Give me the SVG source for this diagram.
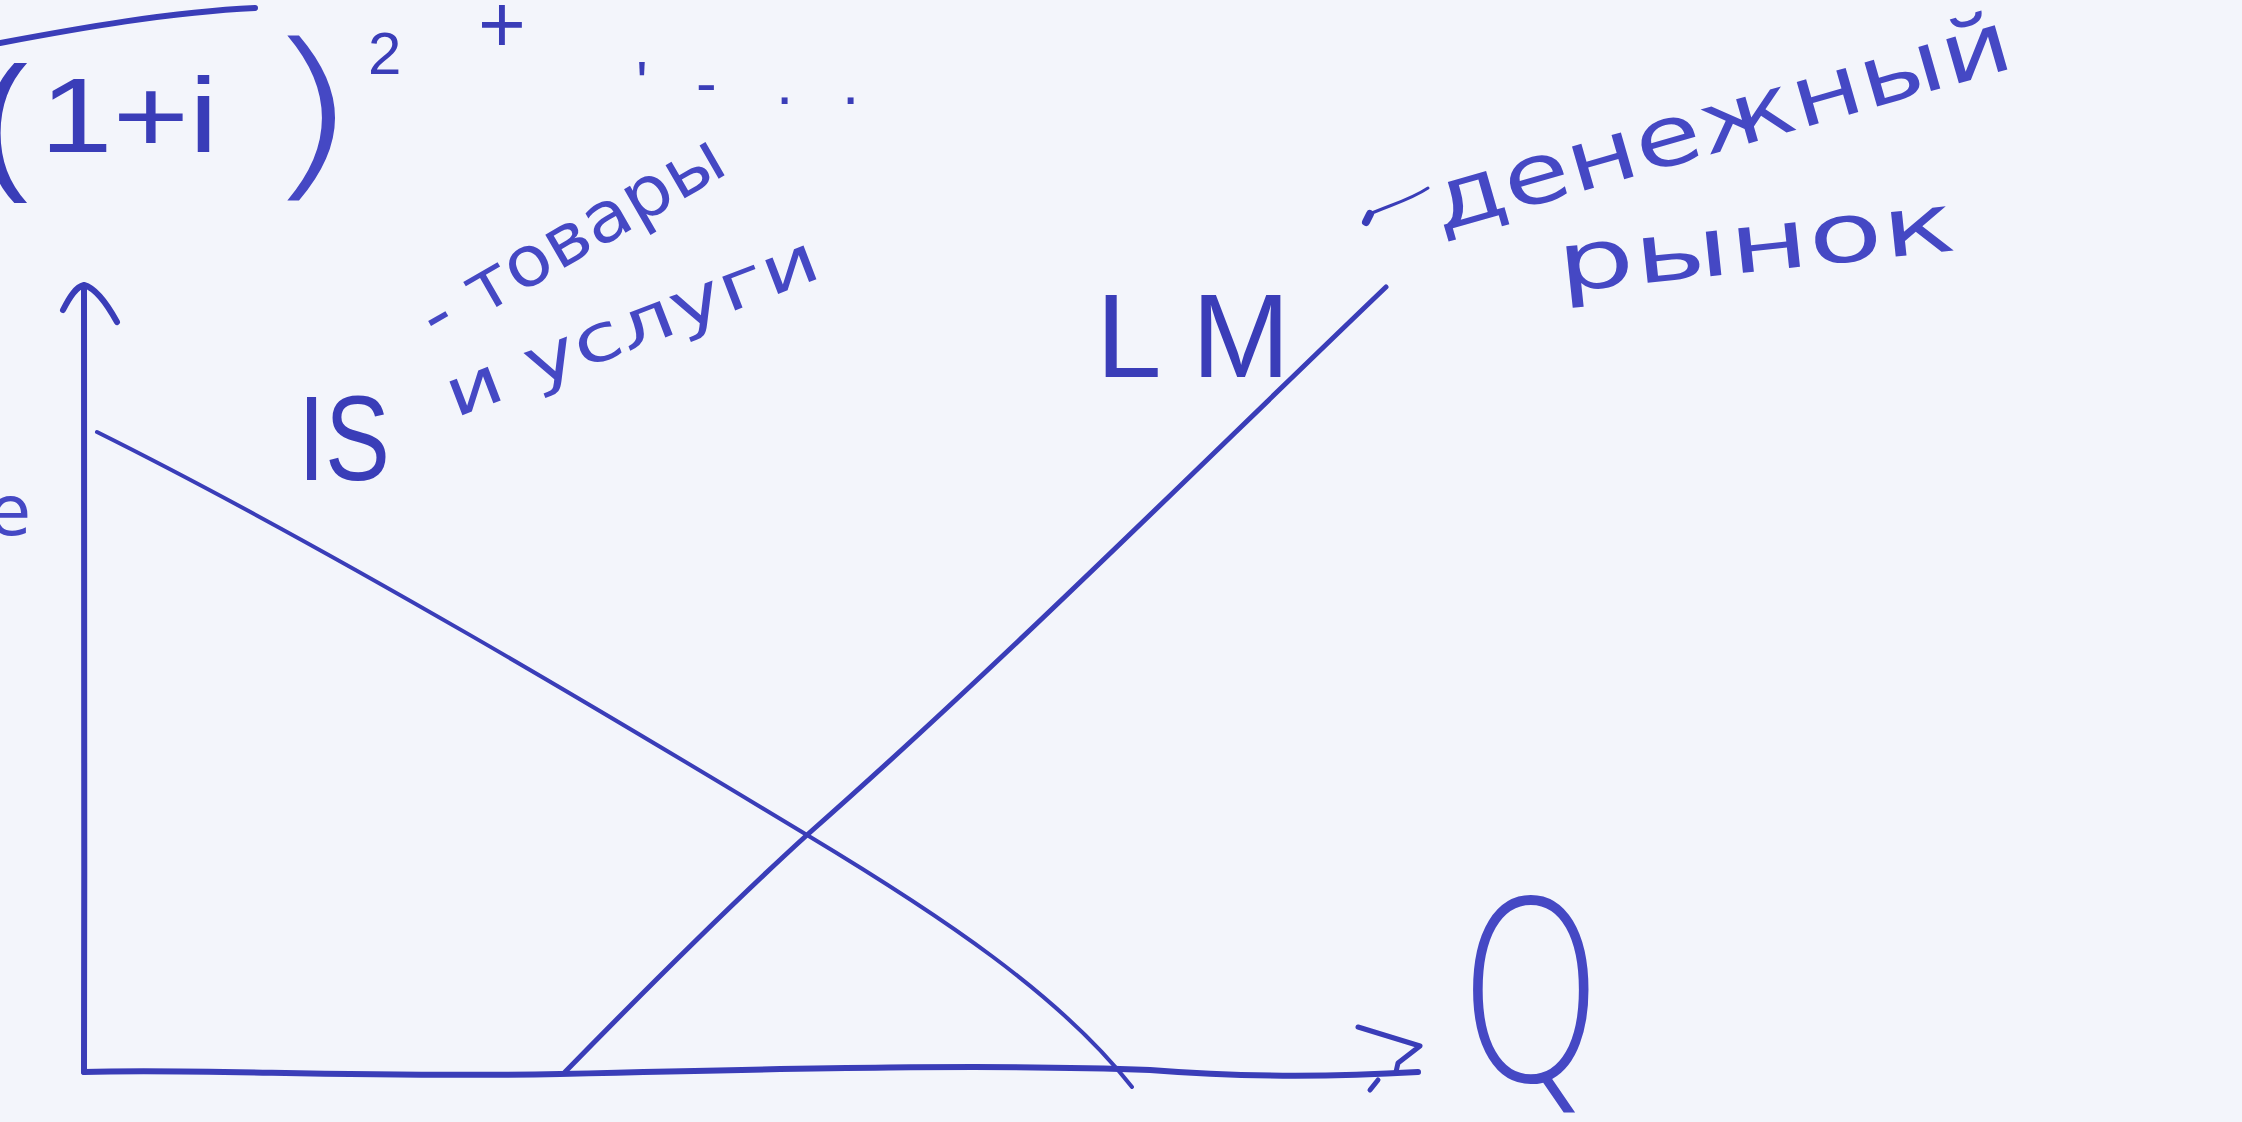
<svg xmlns="http://www.w3.org/2000/svg" width="2242" height="1122" viewBox="0 0 2242 1122">
<style>
.ink{fill:none;stroke:#3a3db8;stroke-linecap:round;stroke-linejoin:round}
.hw{font-family:"Liberation Sans","DejaVu Sans",sans-serif;fill:#3a3db8}
.thin{font-family:"DejaVu Sans","Liberation Sans",sans-serif;fill:#4548c4}
.light{font-family:"DejaVu Sans","Liberation Sans",sans-serif;font-weight:200;fill:#4548c4}
</style>
<rect width="2242" height="1122" fill="#f3f5fb"/>
<g id="formula">
<path class="ink" stroke-width="6" d="M0,43 C80,28 170,12 255,8"/>
<text class="hw" x="-22" y="172" font-size="150">(</text>
<text class="hw" x="40" y="152" font-size="105" textLength="178" lengthAdjust="spacingAndGlyphs">1+i</text>
<text class="light" transform="translate(258,176) scale(1.45,1)" font-size="185">)</text>
<text class="hw" x="368" y="74" font-size="60">2</text>
<text class="hw" x="478" y="52" font-size="82">+</text>
<text class="hw" x="636 696 776 842" y="104" font-size="62">'-..</text>
</g>
<g id="edge-text">
<text class="thin" x="-12" y="535" font-size="70">е</text>
</g>
<g id="connectors">
<path id="y-axis" class="ink" stroke-width="6" d="M84,1072 C84,800 86,500 84,288"/>
<path class="ink" stroke-width="6" d="M63,310 C70,296 76,287 84,285 C95,288 106,302 117,322"/>
<path id="x-axis" class="ink" stroke-width="6" d="M84,1072 C200,1068 350,1078 560,1074 C800,1068 1000,1064 1150,1070 C1250,1078 1350,1076 1418,1072"/>
<path class="ink" stroke-width="5" d="M1358,1027 L1420,1046 L1398,1063 L1396,1072 M1378,1080 L1370,1090"/>
<path id="IS" class="ink" stroke-width="4" d="M97,432 C330,548 620,722 807,835 C940,915 1060,995 1132,1087"/>
<path id="LM" class="ink" stroke-width="5" d="M565,1072 C650,985 730,905 807,835 C1000,665 1200,465 1386,287"/>
</g>
<g id="IS-label">
<text class="hw" x="298" y="480" font-size="120" textLength="92" lengthAdjust="spacingAndGlyphs">IS</text>
<text class="thin" transform="translate(436,342) rotate(-30)" font-size="70" textLength="340" lengthAdjust="spacingAndGlyphs">- товары</text>
<text class="thin" transform="translate(455,418) rotate(-21)" font-size="66" textLength="395" lengthAdjust="spacingAndGlyphs">и услуги</text>
</g>
<g id="LM-label">
<text class="hw" x="1096" y="377" font-size="118" letter-spacing="30">LM</text>
<path class="ink" stroke-width="8" d="M1366,222 L1370,214"/>
<path class="ink" stroke-width="3" d="M1370,214 C1390,205 1410,200 1428,188"/>
<text class="thin" transform="translate(1440,232) rotate(-16)" font-size="84" textLength="600" lengthAdjust="spacingAndGlyphs">денежный</text>
<text class="thin" transform="translate(1560,292) rotate(-6)" font-size="82" textLength="400" lengthAdjust="spacingAndGlyphs">рынок</text>
</g>
<g id="Q-label">
<text class="light" transform="translate(1458,1080) scale(0.74,1)" font-size="250">Q</text>
</g>
</svg>
